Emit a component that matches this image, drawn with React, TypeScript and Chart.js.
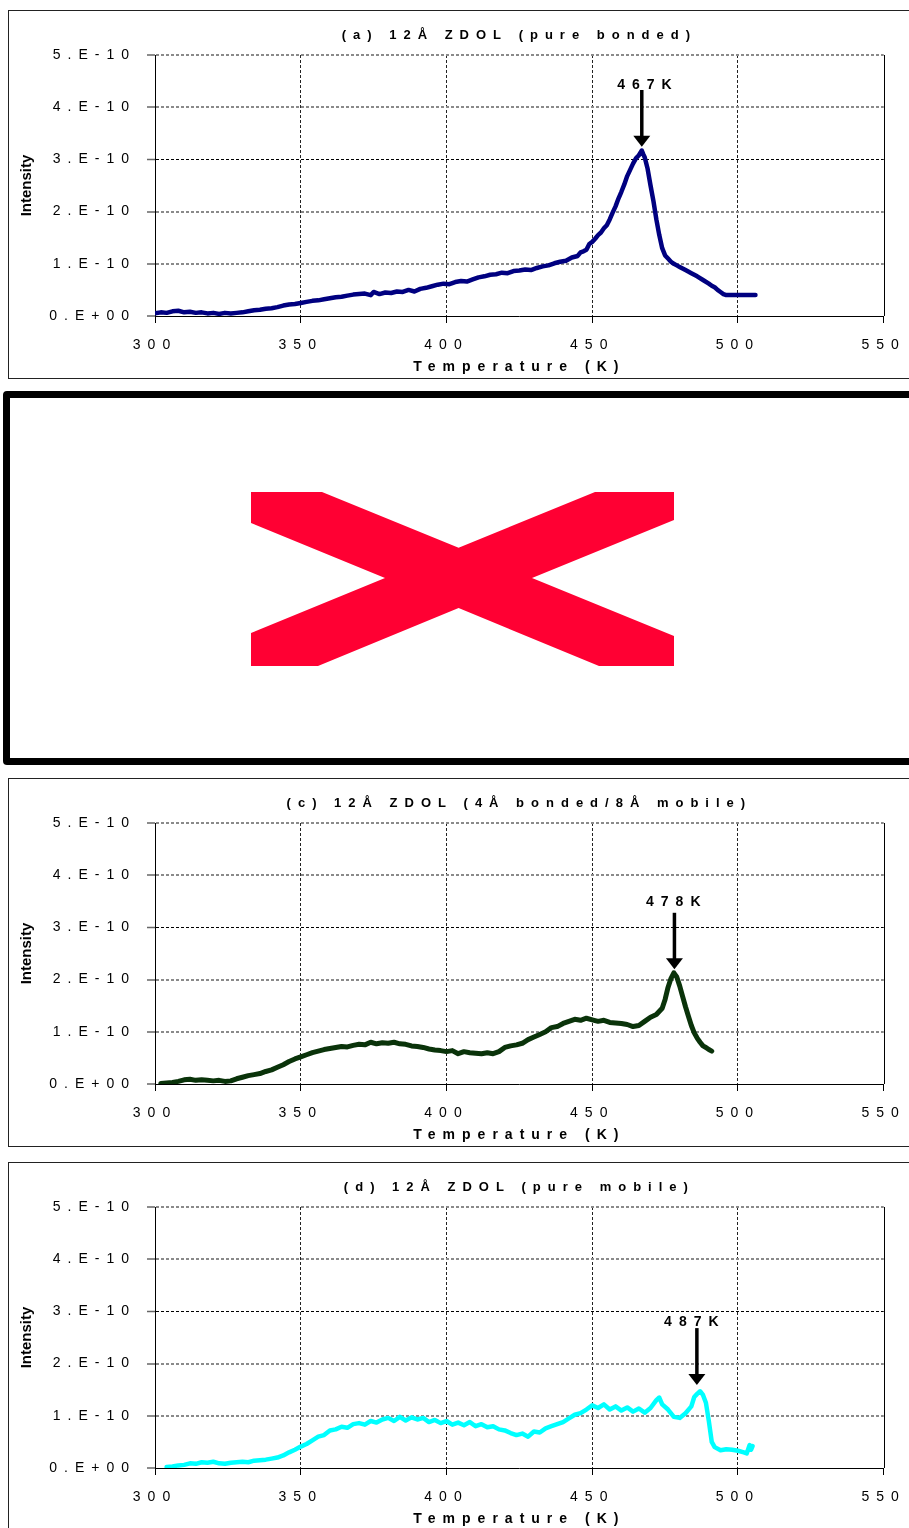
import React, { useEffect, useRef } from 'react';
import { Chart, registerables } from 'chart.js';

Chart.register(...registerables);

// ---------- axis ticks ----------
const xMin = 300;
const xMax = 550;
const xStep = 50;
const yTickLabels = ['0.E+00', '1.E-10', '2.E-10', '3.E-10', '4.E-10', '5.E-10'];
// intensity values below are in units of 1e-10

// ---------- (a) pure bonded ----------
const titleA = '(a) 12Å ZDOL (pure bonded)';
const tempA = [300, 302, 304, 306, 308, 310, 312, 314, 316, 318, 320, 322, 324, 326, 328, 330, 332, 334, 336, 338, 340, 342, 344, 346, 348, 350, 352, 354, 356, 358, 360, 362, 364, 366, 368, 370, 372, 374, 375, 377, 379, 381, 383, 385, 387, 389, 391, 393, 395, 397, 399, 401, 403, 405, 407, 409, 411, 413, 415, 417, 419, 421, 423, 425, 427, 429, 431, 433, 435, 437, 439, 441, 443, 445, 446, 447, 448, 449, 450, 451, 452, 453, 454, 455, 456, 457, 458, 459, 460, 461, 462, 463, 464, 465, 466, 467, 467.5, 468, 469, 470, 471, 472, 473, 474, 475, 476, 477, 478, 479, 480, 482, 484, 486, 488, 490, 491, 492, 493, 494, 495, 496, 506];
const intensityA = [0.05, 0.07, 0.06, 0.09, 0.10, 0.07, 0.08, 0.06, 0.07, 0.05, 0.06, 0.04, 0.06, 0.05, 0.06, 0.07, 0.09, 0.11, 0.12, 0.14, 0.15, 0.17, 0.20, 0.22, 0.23, 0.25, 0.27, 0.29, 0.30, 0.32, 0.34, 0.36, 0.37, 0.39, 0.41, 0.42, 0.43, 0.40, 0.46, 0.42, 0.45, 0.44, 0.47, 0.46, 0.50, 0.47, 0.52, 0.54, 0.57, 0.60, 0.62, 0.61, 0.65, 0.67, 0.66, 0.70, 0.74, 0.76, 0.79, 0.80, 0.83, 0.82, 0.86, 0.87, 0.89, 0.88, 0.92, 0.95, 0.97, 1.01, 1.04, 1.06, 1.12, 1.15, 1.22, 1.24, 1.27, 1.38, 1.42, 1.48, 1.55, 1.60, 1.68, 1.74, 1.85, 1.98, 2.10, 2.25, 2.38, 2.52, 2.68, 2.80, 2.92, 3.02, 3.08, 3.17, 3.10, 3.04, 2.82, 2.50, 2.20, 1.85, 1.55, 1.30, 1.16, 1.10, 1.04, 1.00, 0.97, 0.94, 0.88, 0.82, 0.76, 0.69, 0.62, 0.58, 0.55, 0.50, 0.46, 0.42, 0.40, 0.40];

// ---------- (c) 4Å bonded / 8Å mobile ----------
const titleC = '(c) 12Å ZDOL (4Å bonded/8Å mobile)';
const tempC = [302, 304, 306, 308, 310, 312, 314, 316, 318, 320, 322, 324, 326, 328, 330, 332, 334, 336, 338, 340, 342, 344, 346, 348, 350, 352, 354, 356, 358, 360, 362, 364, 366, 368, 370, 372, 374, 376, 378, 380, 382, 384, 386, 388, 390, 392, 394, 396, 398, 400, 402, 404, 406, 408, 410, 412, 414, 416, 418, 420, 422, 424, 426, 428, 430, 432, 434, 436, 438, 440, 442, 444, 446, 448, 450, 452, 454, 456, 458, 460, 462, 464, 466, 468, 470, 472, 474, 475, 476, 477, 478, 479, 480, 481, 482, 483, 484, 485, 486, 487, 488, 489, 490, 491];
const intensityC = [0.01, 0.02, 0.03, 0.05, 0.08, 0.09, 0.07, 0.08, 0.07, 0.06, 0.07, 0.05, 0.06, 0.10, 0.13, 0.16, 0.18, 0.20, 0.24, 0.27, 0.32, 0.37, 0.43, 0.48, 0.52, 0.56, 0.60, 0.63, 0.66, 0.68, 0.70, 0.72, 0.71, 0.74, 0.76, 0.75, 0.80, 0.77, 0.79, 0.78, 0.80, 0.77, 0.76, 0.73, 0.72, 0.70, 0.67, 0.65, 0.64, 0.62, 0.64, 0.58, 0.62, 0.60, 0.59, 0.58, 0.60, 0.58, 0.62, 0.70, 0.73, 0.75, 0.78, 0.85, 0.90, 0.95, 1.00, 1.08, 1.10, 1.16, 1.20, 1.24, 1.22, 1.26, 1.23, 1.20, 1.22, 1.18, 1.17, 1.16, 1.14, 1.10, 1.12, 1.20, 1.28, 1.33, 1.45, 1.62, 1.85, 2.02, 2.13, 2.05, 1.88, 1.68, 1.48, 1.30, 1.12, 0.98, 0.88, 0.80, 0.73, 0.70, 0.66, 0.63];

// ---------- (d) pure mobile ----------
const titleD = '(d) 12Å ZDOL (pure mobile)';
const tempD = [304, 306, 308, 310, 312, 314, 316, 318, 320, 322, 324, 326, 328, 330, 332, 334, 336, 338, 340, 342, 344, 346, 348, 350, 352, 354, 356, 358, 360, 362, 364, 366, 368, 370, 372, 374, 376, 378, 380, 382, 384, 386, 388, 390, 392, 394, 396, 398, 400, 402, 404, 406, 408, 410, 412, 414, 416, 418, 420, 422, 424, 426, 428, 430, 432, 434, 436, 438, 440, 442, 444, 446, 448, 450, 452, 454, 456, 458, 460, 462, 464, 466, 468, 470, 472, 473, 474, 476, 478, 480, 482, 484, 485, 486, 487, 488, 489, 490, 491, 492, 494, 496, 498, 500, 502, 503, 504, 504.5, 505];
const intensityD = [0.02, 0.03, 0.05, 0.06, 0.09, 0.08, 0.11, 0.10, 0.12, 0.09, 0.08, 0.10, 0.11, 0.12, 0.11, 0.14, 0.15, 0.16, 0.18, 0.20, 0.24, 0.30, 0.35, 0.41, 0.46, 0.53, 0.60, 0.63, 0.72, 0.74, 0.79, 0.77, 0.84, 0.86, 0.83, 0.90, 0.87, 0.93, 0.96, 0.90, 0.98, 0.91, 0.97, 0.93, 0.96, 0.88, 0.92, 0.86, 0.90, 0.83, 0.87, 0.82, 0.88, 0.80, 0.84, 0.78, 0.80, 0.74, 0.72, 0.67, 0.63, 0.66, 0.60, 0.70, 0.68, 0.76, 0.80, 0.84, 0.88, 0.95, 1.02, 1.05, 1.12, 1.20, 1.15, 1.22, 1.12, 1.18, 1.10, 1.16, 1.08, 1.14, 1.06, 1.15, 1.30, 1.35, 1.22, 1.12, 0.98, 0.96, 1.05, 1.18, 1.36, 1.42, 1.47, 1.40, 1.25, 0.90, 0.50, 0.40, 0.34, 0.36, 0.35, 0.33, 0.30, 0.28, 0.44, 0.35, 0.42];

// ---------- peak annotations ----------
const peakLabels = ['467K', '478K', '487K'];
const peakLabelTemps = [467.9, 477.8, 484.0];
const peakLabelLevels = [4.43, 3.49, 2.8];
const peakArrowTemps = [467, 478.2, 485.9];
const peakArrowTops = [4.33, 3.28, 2.68];
const peakArrowTips = [3.24, 2.2, 1.59];

const FONT = '"Liberation Sans", Arial, sans-serif';
const SPACING = '7px';

const spacingPlugin = {
  id: 'letterSpacing',
  beforeDraw(chart: any) {
    chart.ctx.letterSpacing = SPACING;
  },
  afterDraw(chart: any) {
    chart.ctx.letterSpacing = '0px';
  },
  afterLayout(chart: any) {
    const ys: any = chart.scales.y;
    if (ys && !ys.__noSpacing) {
      const orig = ys.drawTitle;
      ys.drawTitle = function (this: any) {
        const c = chart.ctx;
        const prev = c.letterSpacing;
        c.letterSpacing = '0px';
        orig.call(this);
        c.letterSpacing = prev;
      };
      ys.__noSpacing = true;
    }
  },
};

const frameRightPlugin = {
  id: 'frameRight',
  afterDatasetsDraw(chart: any) {
    const { ctx, chartArea } = chart;
    const x = Math.round(chartArea.right) + 0.5;
    ctx.save();
    ctx.strokeStyle = '#000';
    ctx.lineWidth = 1;
    ctx.setLineDash([]);
    ctx.beginPath();
    ctx.moveTo(x, chartArea.top);
    ctx.lineTo(x, chartArea.bottom);
    ctx.stroke();
    ctx.restore();
  },
};

const peakArrowPlugin = {
  id: 'peakArrow',
  afterDraw(chart: any, _args: any, opts: any) {
    const { ctx, scales } = chart;
    const x = scales.x;
    const y = scales.y;
    const ax = x.getPixelForValue(opts.arrowT);
    const yTop = y.getPixelForValue(opts.topI);
    const yTip = y.getPixelForValue(opts.tipI);
    const headH = 11;
    const headW = 8.5;
    ctx.save();
    ctx.letterSpacing = '0px';
    ctx.strokeStyle = '#000';
    ctx.fillStyle = '#000';
    ctx.lineWidth = 3.5;
    ctx.beginPath();
    ctx.moveTo(ax, yTop);
    ctx.lineTo(ax, yTip - headH + 1);
    ctx.stroke();
    ctx.beginPath();
    ctx.moveTo(ax - headW, yTip - headH);
    ctx.lineTo(ax + headW, yTip - headH);
    ctx.lineTo(ax, yTip);
    ctx.closePath();
    ctx.fill();
    ctx.font = `bold 14px ${FONT}`;
    ctx.letterSpacing = SPACING;
    ctx.textAlign = 'center';
    ctx.textBaseline = 'middle';
    ctx.fillText(opts.label, x.getPixelForValue(opts.labelT) + 3.5, y.getPixelForValue(opts.labelI));
    ctx.restore();
  },
};

type PanelProps = {
  top: number;
  title: string;
  temps: number[];
  values: number[];
  color: string;
  lineWidth: number;
  peak: number;
};

function TpdChart({ top, title, temps, values, color, lineWidth, peak }: PanelProps) {
  const ref = useRef<HTMLCanvasElement | null>(null);

  useEffect(() => {
    if (!ref.current) return;
    const chart = new Chart(ref.current, {
      type: 'line',
      data: {
        datasets: [
          {
            data: temps.map((t, i) => ({ x: t, y: values[i] })),
            borderColor: color,
            backgroundColor: color,
            borderWidth: lineWidth,
            pointRadius: 0,
            fill: false,
            tension: 0,
            borderJoinStyle: 'round',
            borderCapStyle: 'round',
          } as any,
        ],
      },
      options: {
        responsive: false,
        animation: false,
        events: [],
        layout: { padding: { left: 0, right: 23, top: 0, bottom: 0 } },
        plugins: {
          legend: { display: false },
          tooltip: { enabled: false },
          title: {
            display: true,
            text: title,
            color: '#000',
            fullSize: false,
            font: { family: FONT, size: 13, weight: 'bold' },
            padding: { top: 17.2, bottom: 12.2 },
          },
          peakArrow: {
            label: peakLabels[peak],
            labelT: peakLabelTemps[peak],
            labelI: peakLabelLevels[peak],
            arrowT: peakArrowTemps[peak],
            topI: peakArrowTops[peak],
            tipI: peakArrowTips[peak],
          },
        } as any,
        scales: {
          x: {
            type: 'linear',
            min: xMin,
            max: xMax,
            afterFit: (s: any) => {
              s.height = 63;
            },
            ticks: {
              stepSize: xStep,
              autoSkip: false,
              maxRotation: 0,
              color: '#000',
              padding: 13.6,
              font: { family: FONT, size: 14 },
              callback: (v: any) => String(v),
            },
            grid: {
              color: (c: any) => (c.index === 0 || c.index === 5 ? 'rgba(0,0,0,0)' : '#222'),
              lineWidth: 1,
              tickLength: 7,
              tickColor: '#000',
              tickWidth: 1,
            },
            border: { color: '#000', width: 1, dash: [3, 2] },
            title: {
              display: true,
              text: 'Temperature (K)',
              color: '#000',
              font: { family: FONT, size: 14, weight: 'bold' },
              padding: { top: 0, bottom: 3.6 },
            },
          },
          y: {
            type: 'linear',
            min: 0,
            max: 5,
            afterFit: (s: any) => {
              s.width = 147;
            },
            ticks: {
              stepSize: 1,
              autoSkip: false,
              color: '#000',
              padding: 11,
              font: { family: FONT, size: 14 },
              callback: (_v: any, i: number) => yTickLabels[i],
            },
            grid: {
              color: (c: any) => (c.index === 0 ? 'rgba(0,0,0,0)' : c.index === 3 ? '#000' : '#8a8a8a'),
              lineWidth: (c: any) => (c.index === 3 ? 1 : 2),
              tickLength: 8,
              tickColor: '#666',
              tickWidth: 1.5,
            },
            border: { color: '#000', width: 1, dash: [3, 2] },
            title: {
              display: true,
              text: 'Intensity',
              color: '#000',
              font: { family: FONT, size: 15, weight: 'bold' },
              padding: { top: 10, bottom: 0 },
            },
          },
        },
      } as any,
      plugins: [spacingPlugin, frameRightPlugin, peakArrowPlugin] as any,
    });
    return () => chart.destroy();
  }, [title, temps, values, color, lineWidth, peak]);

  return (
    <>
      <div
        style={{
          position: 'absolute',
          left: 8,
          top,
          width: 960,
          height: 369,
          border: '1px solid #222',
          boxSizing: 'border-box',
        }}
      />
      <canvas
        ref={ref}
        width={901}
        height={369}
        style={{ position: 'absolute', left: 8, top, width: 901, height: 369, display: 'block' }}
      />
    </>
  );
}

function BrokenImage() {
  const pts = [
    [251, 492], [322, 492], [458.6, 547.7], [595, 492], [674, 492], [674, 520], [532, 578],
    [674, 636], [674, 666], [599, 666], [458.6, 608], [318, 666], [251, 666], [251, 633],
    [385, 578], [251, 523],
  ]
    .map(([x, y]) => `${x},${y - 380}`)
    .join(' ');
  return (
    <>
      <div
        style={{
          position: 'absolute',
          left: 3,
          top: 391,
          width: 960,
          height: 374,
          border: '7px solid #000',
          borderRadius: 4,
          boxSizing: 'border-box',
        }}
      />
      <svg
        width={909}
        height={400}
        style={{ position: 'absolute', left: 0, top: 380 }}
      >
        <polygon points={pts} fill="#FF0033" />
      </svg>
    </>
  );
}

export default function App() {
  return (
    <div
      style={{
        position: 'absolute',
        left: 0,
        top: 0,
        width: 909,
        height: 1528,
        overflow: 'hidden',
        background: '#fff',
      }}
    >
      <TpdChart top={10} title={titleA} temps={tempA} values={intensityA} color="#000080" lineWidth={4.5} peak={0} />
      <BrokenImage />
      <TpdChart top={778} title={titleC} temps={tempC} values={intensityC} color="#0a330a" lineWidth={5} peak={1} />
      <TpdChart top={1162} title={titleD} temps={tempD} values={intensityD} color="#00ffff" lineWidth={4.5} peak={2} />
    </div>
  );
}
